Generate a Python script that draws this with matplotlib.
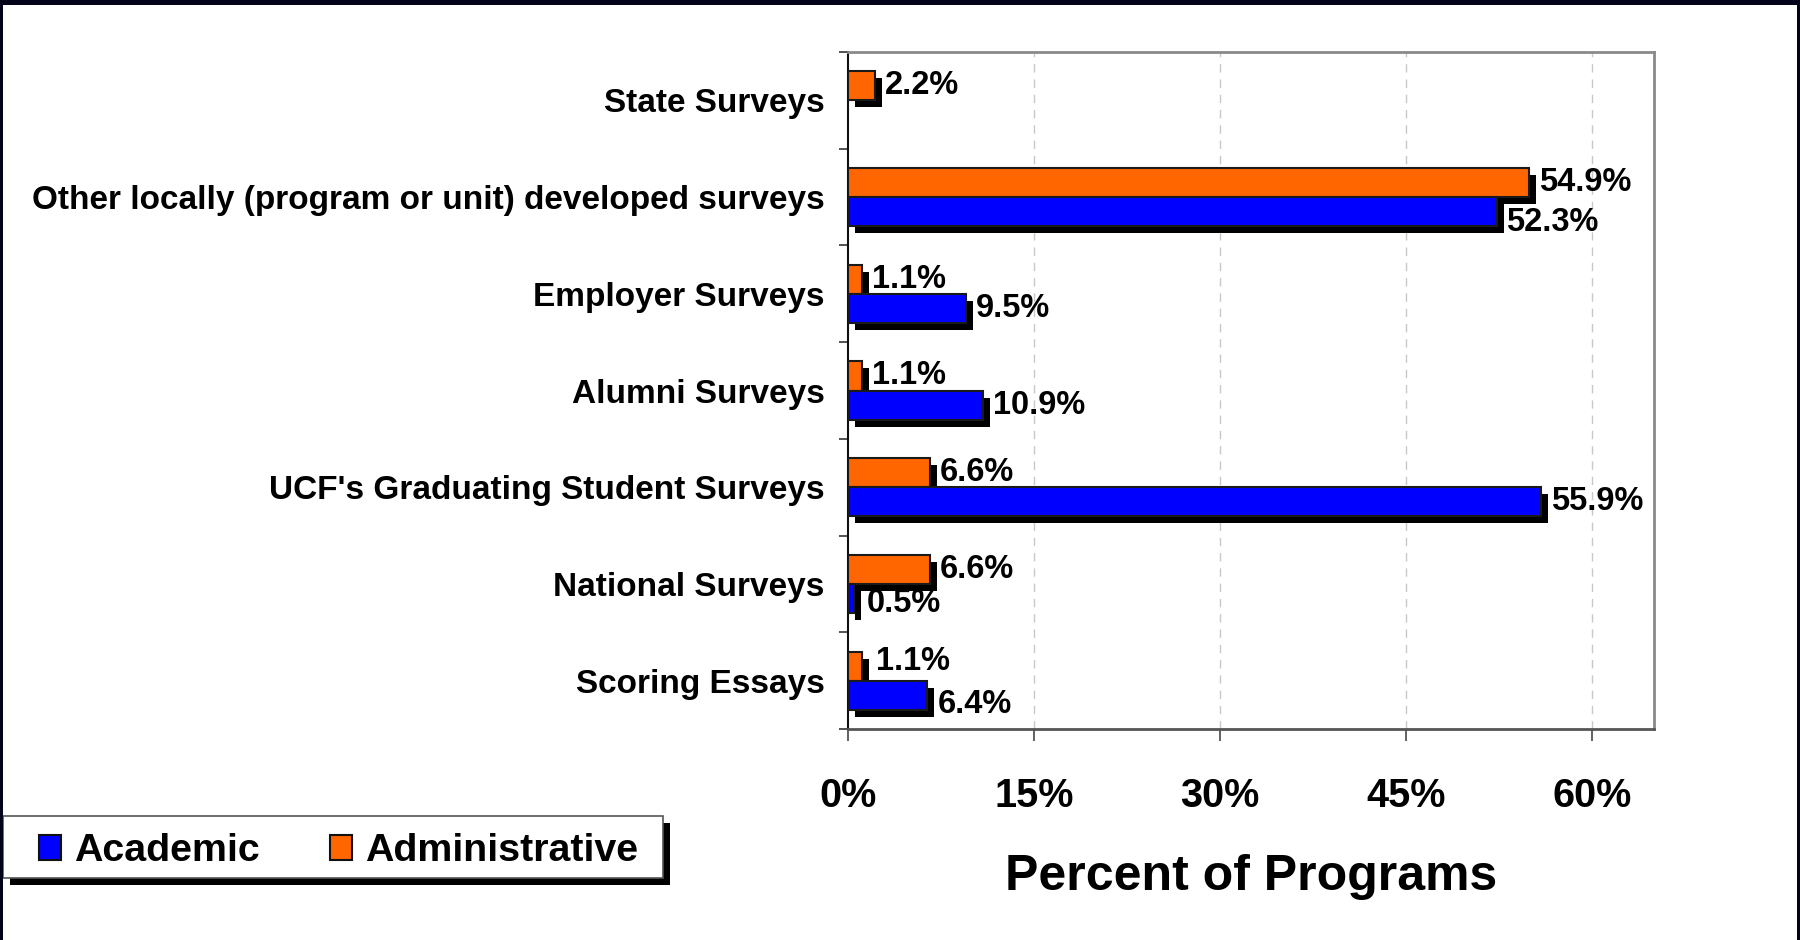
import numpy as np
import matplotlib
matplotlib.use("Agg")
import matplotlib.pyplot as plt
from matplotlib import transforms
from matplotlib.patches import Rectangle, Patch

# ---------------- data ----------------
categories = [
    "State Surveys",
    "Other locally (program or unit) developed surveys",
    "Employer Surveys",
    "Alumni Surveys",
    "UCF's Graduating Student Surveys",
    "National Surveys",
    "Scoring Essays",
]
academic = [np.nan, 52.3, 9.5, 10.9, 55.9, 0.5, 6.4]
administrative = [2.2, 54.9, 1.1, 1.1, 6.6, 6.6, 1.1]
series_names = ["Academic", "Administrative"]
xticks = [0, 15, 30, 45, 60]
xlabel = "Percent of Programs"

# ---------------- style ----------------
FONT = "Liberation Sans"
BLUE = "#0000FF"
ORANGE = "#FF6600"
W, H, DPI = 1800, 940, 100
# small label nudges in pixels (dx, dy), keyed by (category index, series)
NUDGE = {(1, "acad"): (0, -11), (5, "acad"): (3, -5), (6, "acad"): (0, -9),
         (6, "admin"): (4, 5)}

plt.rcParams["font.family"] = [FONT, "DejaVu Sans"]
plt.rcParams["font.weight"] = "bold"

fig = plt.figure(figsize=(W / DPI, H / DPI), dpi=DPI, facecolor="white")
ax = fig.add_axes([848 / W, 1 - 729 / H, (1654 - 848) / W, (729 - 52) / H])

y = np.arange(len(categories))
bh = 0.3
y_admin = y - bh / 2
y_acad = y + bh / 2

shadow_tr = transforms.offset_copy(ax.transData, fig=fig, x=7, y=-7, units="dots")

# shadows
for yy, vals in ((y_admin, administrative), (y_acad, academic)):
    ax.barh(yy, vals, height=bh, color="black", edgecolor="black", linewidth=0,
            transform=shadow_tr, zorder=2)
# bars
ax.barh(y_admin, administrative, height=bh, color=ORANGE, edgecolor="#1a1a1a",
        linewidth=1.5, zorder=3, label=series_names[1])
ax.barh(y_acad, academic, height=bh, color=BLUE, edgecolor="#1a1a1a",
        linewidth=1.5, zorder=3, label=series_names[0])

# value labels
for i in range(len(categories)):
    for key, yy, vals in (("admin", y_admin, administrative), ("acad", y_acad, academic)):
        v = vals[i]
        if v is None or np.isnan(v):
            continue
        dx, dy = NUDGE.get((i, key), (0, 0))
        ax.annotate(f"{v:.1f}%", xy=(v, yy[i]), xytext=(10 + dx, dy),
                    textcoords="offset pixels", ha="left", va="center",
                    fontsize=23.5, fontweight="bold", color="black", zorder=4,
                    annotation_clip=False)

ax.set_xlim(0, 65)
ax.set_ylim(len(categories) - 0.5, -0.5)

# x axis
ax.set_xticks(xticks)
ax.set_xticklabels([f"{t}%" for t in xticks], fontsize=28.5, fontweight="bold")
ax.tick_params(axis="x", direction="out", length=8.6, width=1.3, color="#555555",
               pad=26)
for t in xticks[1:]:
    ax.axvline(t, color="#c8c8c8", linestyle=(0, (6, 5)), linewidth=1.0, zorder=1)

# y axis: separator ticks at band boundaries, labels at centres
ax.set_yticks(np.arange(-0.5, len(categories), 1.0))
ax.set_yticklabels([])
ax.set_yticks(y, minor=True)
ax.set_yticklabels(categories, minor=True, fontsize=24, fontweight="bold")
ax.tick_params(axis="y", which="major", direction="out", length=6.5, width=1.3,
               color="#444444")
ax.tick_params(axis="y", which="minor", length=0, pad=17)

for side in ("top", "right"):
    ax.spines[side].set_color("#8a8a8a")
    ax.spines[side].set_linewidth(2)
ax.spines["bottom"].set_color("#555555")
ax.spines["bottom"].set_linewidth(2)
ax.spines["left"].set_color("#111111")
ax.spines["left"].set_linewidth(1.5)

fig.text(1251 / W, 1 - 890 / H, xlabel, ha="center", va="baseline",
         fontsize=36, fontweight="bold")

# legend (entries by matplotlib, frame + shadow drawn as patches)
handles = [Patch(facecolor=BLUE, edgecolor="#111111", linewidth=1.5),
           Patch(facecolor=ORANGE, edgecolor="#111111", linewidth=1.5)]
leg = fig.legend(handles, series_names, loc="center left",
                 bbox_to_anchor=(39 / W, 1 - 851 / H), ncol=2, frameon=False,
                 borderpad=0, borderaxespad=0, handlelength=0.57, handleheight=0.6,
                 handletextpad=0.33, columnspacing=1.76,
                 prop={"family": FONT, "weight": "bold", "size": 28.4})
lx0, lx1, ly0, ly1 = 3, 663, 816, 878
fig.patches.append(Rectangle((lx0 / W + 7 / W, 1 - (ly1 + 7) / H),
                             (lx1 - lx0) / W, (ly1 - ly0) / H,
                             transform=fig.transFigure, facecolor="black",
                             edgecolor="none", zorder=1))
fig.patches.append(Rectangle((lx0 / W, 1 - ly1 / H), (lx1 - lx0) / W, (ly1 - ly0) / H,
                             transform=fig.transFigure, facecolor="white",
                             edgecolor="#555555", linewidth=1.2, zorder=2))

# outer dark border
border = "#03031a"
fig.patches.append(Rectangle((0, 1 - 5 / H), 1, 5 / H, transform=fig.transFigure,
                             facecolor=border, edgecolor="none", zorder=10))
fig.patches.append(Rectangle((0, 0), 3 / W, 1, transform=fig.transFigure,
                             facecolor=border, edgecolor="none", zorder=10))
fig.patches.append(Rectangle((1 - 3 / W, 0), 3 / W, 1, transform=fig.transFigure,
                             facecolor=border, edgecolor="none", zorder=10))

fig.savefig("out.png", dpi=DPI, facecolor="white")
